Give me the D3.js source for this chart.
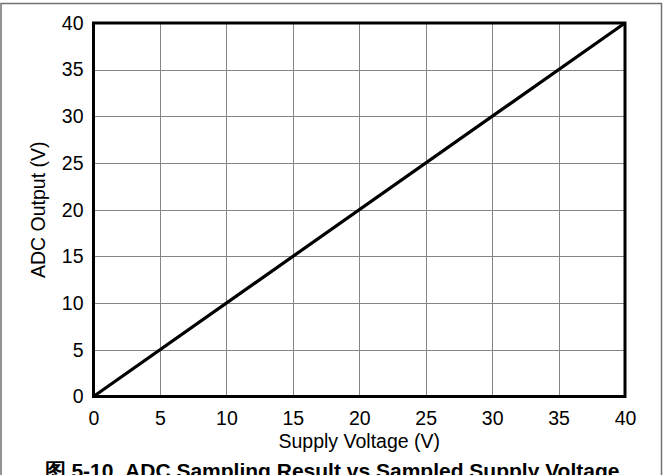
<!DOCTYPE html>
<html>
<head>
<meta charset="utf-8" />
<title>ADC Sampling Result</title>
<script src="https://cdn.jsdelivr.net/npm/d3@7"></script>
<style>
  body { margin: 0; background: #fff; }
  svg text { font-family: "Liberation Sans", Arial, sans-serif; fill: #000; }
  .grid line { stroke: #858585; stroke-width: 1; shape-rendering: crispEdges; }
</style>
</head>
<body>
<svg id="chart"></svg>
<script>
// data
var supplyVoltage = [0, 40];
var adcOutput = [0, 40];
var xTicks = [0, 5, 10, 15, 20, 25, 30, 35, 40];
var yTicks = [0, 5, 10, 15, 20, 25, 30, 35, 40];
var xTitle = "Supply Voltage (V)";
var yTitle = "ADC Output (V)";
var caption = "图 5-10. ADC Sampling Result vs Sampled Supply Voltage";

var width = 663, height = 475;
var plotL = 93.5, plotT = 23, plotR = 625, plotB = 396.5;

var svg = d3.select("#chart").attr("width", width).attr("height", height);

// outer figure border
svg.append("rect")
  .attr("x", 1).attr("y", 3.5)
  .attr("width", 660.5).attr("height", 490)
  .attr("fill", "none")
  .attr("stroke", "#707070")
  .attr("stroke-width", 1.5);

var x = d3.scaleLinear().domain([0, 40]).range([plotL, plotR]);
var y = d3.scaleLinear().domain([0, 40]).range([plotB, plotT]);

// grid
var grid = svg.append("g").attr("class", "grid");
grid.selectAll(".vx").data(xTicks.slice(1, -1)).enter().append("line")
  .attr("x1", function(d) { return Math.round(x(d)) + 0.5; })
  .attr("x2", function(d) { return Math.round(x(d)) + 0.5; })
  .attr("y1", plotT).attr("y2", plotB);
grid.selectAll(".hy").data(yTicks.slice(1, -1)).enter().append("line")
  .attr("y1", function(d) { return Math.round(y(d)) + 0.5; })
  .attr("y2", function(d) { return Math.round(y(d)) + 0.5; })
  .attr("x1", plotL).attr("x2", plotR);

// axes (labels only, no tick marks)
var xAxis = svg.append("g")
  .attr("transform", "translate(0," + plotB + ")")
  .call(d3.axisBottom(x).tickValues(xTicks).tickSize(0).tickPadding(15));
var yAxis = svg.append("g")
  .attr("transform", "translate(" + plotL + ",0)")
  .call(d3.axisLeft(y).tickValues(yTicks).tickSize(0).tickPadding(10));
[xAxis, yAxis].forEach(function(a) {
  a.select(".domain").remove();
  a.selectAll("text")
    .attr("fill", "#000")
    .style("font-size", "19.5px")
    .style("font-family", "'Liberation Sans', Arial, sans-serif");
});

// data line
var line = d3.line()
  .x(function(d, i) { return x(supplyVoltage[i]); })
  .y(function(d, i) { return y(adcOutput[i]); });
svg.append("path")
  .datum(supplyVoltage)
  .attr("d", line)
  .attr("fill", "none")
  .attr("stroke", "#000")
  .attr("stroke-width", 3.2);

// plot frame
svg.append("rect")
  .attr("x", plotL).attr("y", plotT)
  .attr("width", plotR - plotL).attr("height", plotB - plotT)
  .attr("fill", "none")
  .attr("stroke", "#000")
  .attr("stroke-width", 3);

// titles
svg.append("text")
  .attr("x", (plotL + plotR) / 2).attr("y", 448)
  .attr("text-anchor", "middle")
  .style("font-size", "19.5px")
  .text(xTitle);
svg.append("text")
  .attr("transform", "translate(45," + (plotT + plotB) / 2 + ") rotate(-90)")
  .attr("text-anchor", "middle")
  .style("font-size", "19.5px")
  .text(yTitle);

// figure caption, cut off by the bottom edge as in the source
svg.append("text")
  .attr("x", 332).attr("y", 478)
  .attr("text-anchor", "middle")
  .style("font-size", "21px")
  .style("font-weight", "bold")
  .text(caption);
</script>
</body>
</html>
